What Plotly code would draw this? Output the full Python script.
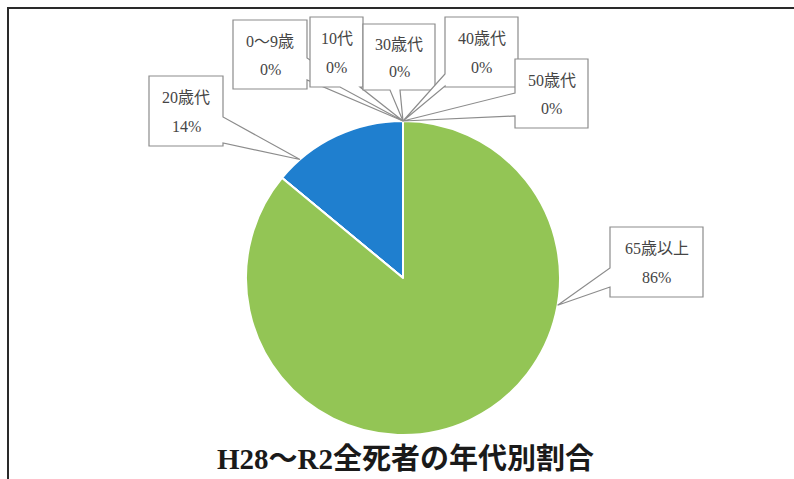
import math
import plotly.graph_objects as go

# ---- data ----
categories = ["0～9歳", "10代", "20歳代", "30歳代", "40歳代", "50歳代", "65歳以上"]
shares = [0, 0, 14, 0, 0, 0, 86]
pct_labels = ["0%", "0%", "14%", "0%", "0%", "0%", "86%"]
slice_colors = ["#4F81BD", "#C0504D", "#1F7FCF", "#8064A2", "#4BACC6", "#F79646", "#93C555"]
title_text = "H28～R2全死者の年代別割合"

W, H = 794, 479
CX, CY, R = 403, 278, 157

fig = go.Figure()
fig.add_trace(go.Pie(
    labels=categories, values=shares, sort=False, direction="counterclockwise",
    rotation=0, textinfo="none", hoverinfo="label+percent",
    marker=dict(colors=slice_colors, line=dict(color="white", width=2)),
    domain=dict(x=[(CX - R) / W, (CX + R) / W], y=[1 - (CY + R) / H, 1 - (CY - R) / H]),
    showlegend=False,
))

def tip_at(deg):
    a = math.radians(deg)
    return (CX + R * math.sin(a), CY - R * math.cos(a))

# callout boxes per category: (x0, y0, x1, y1, side, a, b, tip angle)
boxes = {
    "0～9歳": (233, 20, 307, 89, "right", 58, 80, 0),
    "10代": (310, 17, 363, 87, "bottom", 340, 360, 0),
    "20歳代": (149, 76, 223, 146, "right", 117, 143, -41),
    "30歳代": (363, 24, 435, 90, "bottom", 390, 400, 0),
    "40歳代": (445, 17, 518, 87, "left", 74, 86, 0),
    "50歳代": (515, 59, 588, 128, "left", 93, 116, 0),
    "65歳以上": (610, 227, 703, 297, "left", 268, 287, 100),
}
draw_order = ["20歳代", "0～9歳", "10代", "30歳代", "40歳代", "50歳代", "65歳以上"]

shapes = []
annotations = []
for name in draw_order:
    idx = categories.index(name)
    x0, y0, x1, y1, side, a, b, ang = boxes[name]
    tx, ty = tip_at(ang)
    if side == "right":
        pts = [(x0, y0), (x1, y0), (x1, a), (tx, ty), (x1, b), (x1, y1), (x0, y1)]
    elif side == "bottom":
        pts = [(x0, y0), (x1, y0), (x1, y1), (b, y1), (tx, ty), (a, y1), (x0, y1)]
    else:
        pts = [(x0, y0), (x1, y0), (x1, y1), (x0, y1), (x0, b), (tx, ty), (x0, a)]
    path = "M " + " L ".join(f"{px:.1f},{py:.1f}" for px, py in pts) + " Z"
    shapes.append(dict(type="path", xref="x", yref="y", path=path,
                       fillcolor="white", line=dict(color="#8c8c8c", width=1.2)))
    hgt = y1 - y0
    fnt = dict(family="Liberation Serif, Noto Sans CJK JP", size=16, color="#454545")
    annotations.append(dict(x=(x0 + x1) / 2, y=y0 + hgt * 0.31, xref="x", yref="y",
                            text=categories[idx], showarrow=False, font=fnt))
    annotations.append(dict(x=(x0 + x1) / 2, y=y0 + hgt * 0.72, xref="x", yref="y",
                            text=pct_labels[idx], showarrow=False, font=fnt))

# frame (only left and top edges visible)
shapes.insert(0, dict(type="rect", xref="x", yref="y", x0=8, y0=8, x1=W + 10, y1=H + 10,
                      line=dict(color="#2a2a2a", width=2), fillcolor="rgba(0,0,0,0)", layer="below"))

annotations.append(dict(x=405, y=459, xref="x", yref="y", text="<b>" + title_text + "</b>",
                        showarrow=False,
                        font=dict(family="Liberation Serif, Noto Sans CJK JP", size=29, color="#1a1a1a")))

fig.update_layout(
    width=W, height=H, margin=dict(l=0, r=0, t=0, b=0),
    paper_bgcolor="white", plot_bgcolor="rgba(0,0,0,0)",
    xaxis=dict(range=[0, W], visible=False, domain=[0, 1], fixedrange=True),
    yaxis=dict(range=[H, 0], visible=False, domain=[0, 1], fixedrange=True),
    shapes=shapes, annotations=annotations,
)
fig.write_html("out.html", config={"displayModeBar": False},
               post_script="document.body.style.margin='0';document.body.style.overflow='hidden';")
